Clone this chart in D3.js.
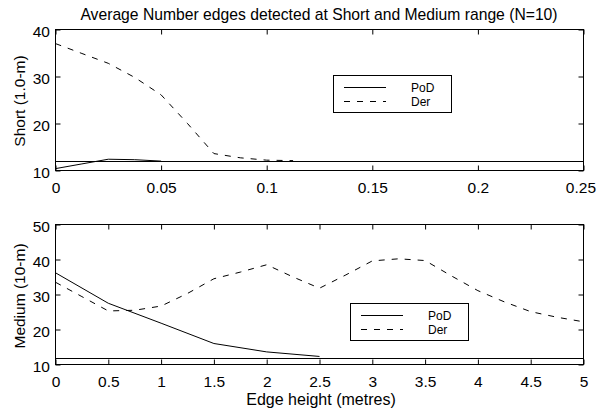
<!DOCTYPE html>
<html>
<head>
<meta charset="utf-8">
<script src="https://cdn.jsdelivr.net/npm/d3@7"></script>
<style>
  html, body { margin: 0; padding: 0; background: #fff; }
  svg { display: block; font-family: "Liberation Sans", Arial, sans-serif; }
  text { fill: #000; }
</style>
</head>
<body>
<svg id="chart" width="597" height="412"></svg>
<script>
// Short range (1.0 m) — edge height in metres vs. average number of edges
const shortPoDHeights = [0, 0.0125, 0.025, 0.0375, 0.05];
const shortPoD        = [10.4, 11.4, 12.4, 12.3, 12.0];
const shortDerHeights = [0, 0.0125, 0.025, 0.0375, 0.05, 0.0625, 0.075, 0.0875, 0.1, 0.1125];
const shortDer        = [37.0, 34.9, 32.8, 29.8, 26.1, 20.0, 13.6, 12.7, 12.2, 12.1];

// Medium range (10 m)
const mediumPoDHeights = [0, 0.5, 1, 1.5, 2, 2.5];
const mediumPoD        = [36.2, 27.5, 21.8, 16.0, 13.6, 12.3];
const mediumDerHeights = [0, 0.25, 0.5, 0.75, 1, 1.25, 1.5, 1.75, 2, 2.25, 2.5, 2.75, 3, 3.25, 3.5, 3.75, 4, 4.25, 4.5, 4.75, 5];
const mediumDer        = [33.5, 29.4, 25.3, 25.5, 26.7, 30.3, 34.5, 36.4, 38.5, 35.0, 31.8, 35.6, 39.6, 40.2, 39.7, 35.3, 31.1, 27.9, 25.1, 23.5, 22.2];

// Baseline count drawn across both panels
const baselineLevel = 12;

// Tick values and labels
const shortXTicks  = [0, 0.05, 0.1, 0.15, 0.2, 0.25];
const shortXLabels = ["0", "0.05", "0.1", "0.15", "0.2", "0.25"];
const shortYTicks  = [10, 20, 30, 40];
const mediumXTicks  = [0, 0.5, 1, 1.5, 2, 2.5, 3, 3.5, 4, 4.5, 5];
const mediumXLabels = ["0", "0.5", "1", "1.5", "2", "2.5", "3", "3.5", "4", "4.5", "5"];
const mediumYTicks  = [10, 20, 30, 40, 50];

const seriesNames = ["PoD", "Der"];
const titleText = "Average Number edges detected at Short and Medium range (N=10)";
const xLabelText = "Edge height (metres)";

const svg = d3.select("#chart");
const WIDTH = 597;
const FONT = 15.5;
const LEGEND_FONT = 12;
const DER_DASH = "6,7";

function panel(cfg) {
  const x = d3.scaleLinear().domain(cfg.xDomain).range([55.5, 583.5]);
  const y = d3.scaleLinear().domain(cfg.yDomain).range([cfg.bottom, cfg.top]);
  const g = svg.append("g");

  // bottom axis with labels, ticks pointing inward
  const bx = g.append("g").attr("transform", `translate(0,${cfg.bottom})`)
    .call(d3.axisBottom(x).tickValues(cfg.xTicks)
      .tickFormat((d, i) => cfg.xLabels[i]).tickSize(-5).tickSizeOuter(0).tickPadding(11));
  // top axis ticks only
  const tx = g.append("g").attr("transform", `translate(0,${cfg.top})`)
    .call(d3.axisTop(x).tickValues(cfg.xTicks).tickFormat("").tickSize(-5).tickSizeOuter(0));
  // left axis with labels
  const ly = g.append("g").attr("transform", `translate(55.5,0)`)
    .call(d3.axisLeft(y).tickValues(cfg.yTicks).tickFormat(d3.format("d"))
      .tickSize(-5).tickSizeOuter(0).tickPadding(5.5));
  // right axis ticks only
  const ry = g.append("g").attr("transform", `translate(583.5,0)`)
    .call(d3.axisRight(y).tickValues(cfg.yTicks).tickFormat("").tickSize(-5).tickSizeOuter(0));

  [bx, tx, ly, ry].forEach(a => {
    a.select(".domain").remove();
    a.selectAll("line").attr("stroke", "#000");
    a.selectAll("text").attr("font-size", FONT).attr("font-family", null).attr("fill", "#000");
  });
  ly.selectAll("text").attr("dy", "0.45em");

  // keep the last x label inside the canvas
  bx.selectAll(".tick text").each(function () {
    const b = this.getBBox();
    const m = this.parentNode.transform.baseVal.consolidate().matrix;
    const over = m.e + b.x + b.width - (WIDTH - 1);
    if (over > 0) d3.select(this).attr("x", -over);
  });

  // frame
  g.append("rect")
    .attr("x", 55.5).attr("y", cfg.top)
    .attr("width", 528).attr("height", cfg.bottom - cfg.top)
    .attr("fill", "none").attr("stroke", "#000");

  // baseline level
  g.append("line")
    .attr("x1", x(cfg.xDomain[0])).attr("x2", x(cfg.xDomain[1]))
    .attr("y1", Math.round(y(baselineLevel)) + 0.5).attr("y2", Math.round(y(baselineLevel)) + 0.5)
    .attr("stroke", "#000");

  const line = d3.line().x(d => x(d[0])).y(d => y(d[1]));
  g.append("path")
    .datum(d3.zip(cfg.podX, cfg.pod))
    .attr("d", line).attr("fill", "none").attr("stroke", "#000").attr("stroke-width", 1);
  g.append("path")
    .datum(d3.zip(cfg.derX, cfg.der))
    .attr("d", line).attr("fill", "none").attr("stroke", "#000").attr("stroke-width", 1)
    .attr("stroke-dasharray", DER_DASH);

  // y label
  g.append("text")
    .attr("transform", `translate(25,${cfg.labelY}) rotate(-90)`)
    .attr("text-anchor", "middle").attr("font-size", FONT)
    .text(cfg.yLabel);

  // legend
  const L = cfg.legend;
  const lg = g.append("g");
  lg.append("rect").attr("x", L.x + 0.5).attr("y", L.y + 0.5)
    .attr("width", 118).attr("height", 37)
    .attr("fill", "#fff").attr("stroke", "#000");
  seriesNames.forEach((name, i) => {
    const yy = L.y + 12 + i * 14;
    lg.append("line")
      .attr("x1", L.x + 11).attr("x2", L.x + 53)
      .attr("y1", yy + 0.5).attr("y2", yy + 0.5)
      .attr("stroke", "#000")
      .attr("stroke-dasharray", i === 1 ? DER_DASH : null);
    lg.append("text")
      .attr("x", L.x + 78).attr("y", yy + 5)
      .attr("font-size", LEGEND_FONT)
      .text(name);
  });
}

panel({
  xDomain: [0, 0.25], yDomain: [10, 40], top: 29.5, bottom: 170.5,
  xTicks: shortXTicks, xLabels: shortXLabels, yTicks: shortYTicks,
  podX: shortPoDHeights, pod: shortPoD, derX: shortDerHeights, der: shortDer,
  yLabel: "Short (1.0-m)", labelY: 101,
  legend: { x: 333, y: 75 }
});

panel({
  xDomain: [0, 5], yDomain: [10, 50], top: 224.5, bottom: 364.5,
  xTicks: mediumXTicks, xLabels: mediumXLabels, yTicks: mediumYTicks,
  podX: mediumPoDHeights, pod: mediumPoD, derX: mediumDerHeights, der: mediumDer,
  yLabel: "Medium (10-m)", labelY: 296,
  legend: { x: 350, y: 303 }
});

// title and shared x label
svg.append("text")
  .attr("x", 319).attr("y", 19.5)
  .attr("text-anchor", "middle").attr("font-size", 15.7)
  .text(titleText);

svg.append("text")
  .attr("x", 321).attr("y", 405)
  .attr("text-anchor", "middle").attr("font-size", 16)
  .text(xLabelText);
</script>
</body>
</html>
